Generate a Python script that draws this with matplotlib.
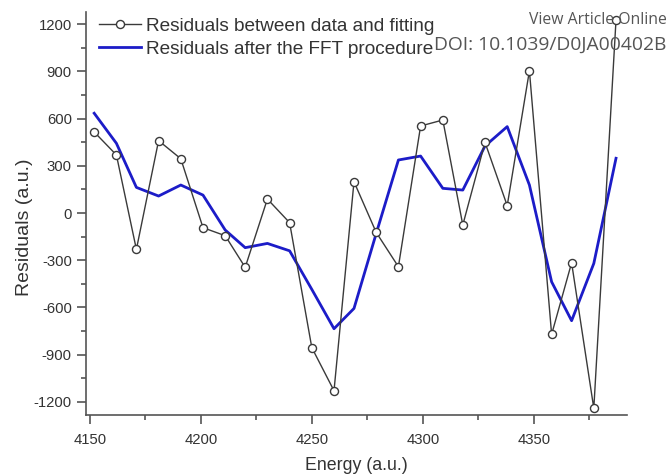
import matplotlib
matplotlib.use('Agg')
import matplotlib.pyplot as plt
from matplotlib.ticker import MultipleLocator

plt.rcParams['font.family'] = ['Liberation Sans', 'DejaVu Sans']
plt.rcParams['axes.unicode_minus'] = False

# energy positions of the points
energy = [4152, 4162, 4171, 4181, 4191, 4201, 4211, 4220, 4230, 4240,
          4250, 4260, 4269, 4279, 4289, 4299, 4309, 4318, 4328, 4338,
          4348, 4358, 4367, 4377, 4387]

# residuals between data and fitting
resid_fit = [515, 369, -231, 460, 345, -93, -144, -345, 89, -61,
             -855, -1129, 199, -123, -341, 553, 591, -76, 449, 47,
             904, -771, -316, -1241, 1227]

# residuals after the FFT procedure
resid_fft = [634, 443, 163, 108, 178, 114, -108, -220, -193, -240,
             -485, -735, -606, -130, 337, 362, 157, 146, 426, 549,
             178, -437, -684, -320, 348]

fig = plt.figure(figsize=(6.7, 4.75), dpi=100)
ax = fig.add_axes([0.128, 0.126, 0.808, 0.849])

ax.plot(energy, resid_fit, color='#3a3a3a', lw=1.0, marker='o', ms=5.8,
        mfc='white', mec='#3a3a3a', mew=1.0,
        label='Residuals between data and fitting', zorder=3)
ax.plot(energy, resid_fft, color='#1c1cc8', lw=2.0,
        label='Residuals after the FFT procedure', zorder=2)

ax.set_xlim(4148.2, 4392)
ax.set_ylim(-1284, 1278)
ax.xaxis.set_major_locator(MultipleLocator(50))
ax.xaxis.set_minor_locator(MultipleLocator(25))
ax.yaxis.set_major_locator(MultipleLocator(300))
ax.yaxis.set_minor_locator(MultipleLocator(150))

for s in ['top', 'right']:
    ax.spines[s].set_visible(False)
for s in ['left', 'bottom']:
    ax.spines[s].set_color('#555555')
    ax.spines[s].set_linewidth(1.2)

ax.tick_params(which='major', direction='out', length=6.5, width=1.2,
               colors='#555555', labelcolor='#333333', labelsize=10.7)
ax.tick_params(axis='x', which='major', pad=6)
ax.tick_params(which='minor', direction='out', length=3.5, width=1.2,
               colors='#555555')

ax.set_xlabel('Energy (a.u.)', fontsize=12.8, color='#333333')
ax.xaxis.set_label_coords(0.5, -0.104)
ax.set_ylabel('Residuals (a.u.)', fontsize=14, color='#333333')
ax.yaxis.set_label_coords(-0.098, 0.466)

leg = ax.legend(loc='upper left', frameon=False, fontsize=13.7,
                handlelength=2.2, handletextpad=0.3, borderaxespad=0.0,
                labelspacing=0.3, bbox_to_anchor=(0.01, 1.005))
for t in leg.get_texts():
    t.set_color('#333333')

fig.text(0.995, 0.958, 'View Article Online', ha='right', va='center',
         fontsize=11.3, color='#555555', family='Open Sans')
fig.text(0.995, 0.905, 'DOI: 10.1039/D0JA00402B', ha='right', va='center',
         fontsize=13.9, color='#555555', family='Open Sans')

fig.savefig('out.png', dpi=100)
